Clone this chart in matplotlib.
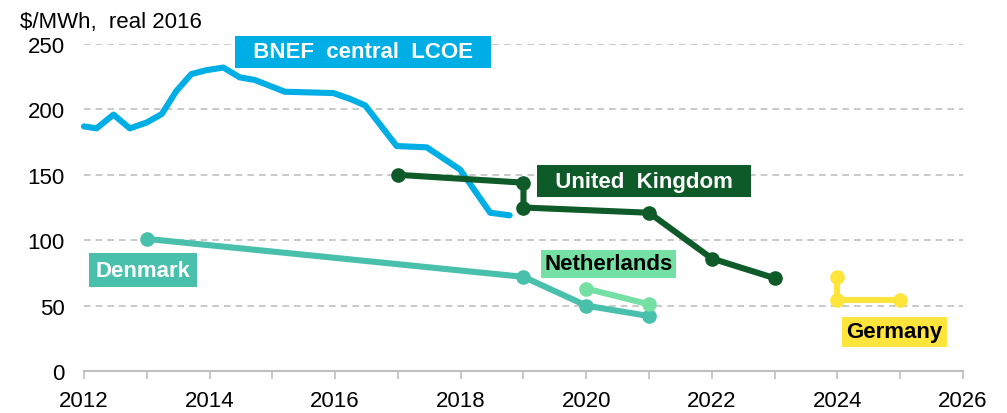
import matplotlib.pyplot as plt
from matplotlib.ticker import MultipleLocator

plt.rcParams['font.family'] = ['Liberation Sans', 'DejaVu Sans']

# =========================
# Data
# =========================
bnef_years = [2012.0, 2012.2, 2012.47, 2012.73, 2013.0, 2013.24, 2013.47, 2013.71,
              2013.95, 2014.22, 2014.48, 2014.72, 2014.96, 2015.2, 2015.97, 2016.24,
              2016.48, 2016.98, 2017.46, 2017.99, 2018.47, 2018.78]
bnef_lcoe = [187, 185.5, 196, 185.5, 190, 196.5, 214, 227, 230, 232, 224.5, 222.5,
             218, 213.5, 212.5, 208, 203, 172, 171, 154, 121, 119]

uk_years = [2017, 2019, 2019, 2021, 2022, 2023]
uk_price = [150, 144, 125, 121, 86, 71]

dk_years = [2013, 2019, 2020, 2021]
dk_price = [101, 72, 50, 42]

nl_years = [2020, 2021]
nl_price = [63, 51]

de_years = [2024, 2024, 2025]
de_price = [72, 54, 54]

c_bnef = '#00AEE6'
c_uk = '#0E5A28'
c_dk = '#48C0AC'
c_nl = '#75E0A3'
c_de = '#FFE43C'

fig = plt.figure(figsize=(10.07, 4.14), dpi=100)
ax = fig.add_axes([0.0834, 0.1014, 0.8729, 0.7899])

lw = 4.4
ms = 9.5
ax.plot(bnef_years, bnef_lcoe, color=c_bnef, lw=lw, solid_capstyle='round',
        solid_joinstyle='round', clip_on=False, zorder=3)
ax.plot(uk_years, uk_price, color=c_uk, lw=lw, marker='o', ms=ms,
        solid_joinstyle='round', clip_on=False, zorder=4)
ax.plot(dk_years, dk_price, color=c_dk, lw=lw, marker='o', ms=ms,
        solid_joinstyle='round', clip_on=False, zorder=3)
ax.plot(nl_years, nl_price, color=c_nl, lw=lw, marker='o', ms=ms,
        solid_joinstyle='round', clip_on=False, zorder=3)
ax.plot(de_years, de_price, color=c_de, lw=lw, marker='o', ms=ms,
        solid_joinstyle='round', clip_on=False, zorder=3)

ax.set_xlim(2012, 2026)
ax.set_ylim(0, 250)
ax.xaxis.set_major_locator(MultipleLocator(2))
ax.xaxis.set_minor_locator(MultipleLocator(1))
ax.yaxis.set_major_locator(MultipleLocator(50))

for v in [50, 100, 150, 200, 250]:
    ax.axhline(v, color='#C0C0C0', lw=1.2, ls=(0, (4, 3)), zorder=1)

for s in ['top', 'right', 'left']:
    ax.spines[s].set_visible(False)
ax.spines['bottom'].set_color('#BFBFBF')
ax.spines['bottom'].set_linewidth(1.5)
ax.tick_params(axis='x', which='both', direction='out', length=6, width=1.2,
               color='#BFBFBF', labelsize=16, pad=8)
ax.tick_params(axis='y', length=0, labelsize=16, pad=14)

fig.text(0.02, 0.945, '$/MWh,  real 2016', fontsize=16, ha='left', va='center')


def tag(x, y, text, bg, fg, pad=0.2):
    ax.text(x, y, text, fontsize=16, fontweight='bold', color=fg, ha='left',
            va='center', zorder=6, clip_on=False,
            bbox=dict(boxstyle='square,pad=%s' % pad, fc=bg, ec='none'))


tag(2014.5, 244, '  BNEF  central  LCOE  ', c_bnef, 'white', 0.25)
tag(2019.31, 145, '  United  Kingdom  ', c_uk, 'white', 0.25)
tag(2019.33, 82, 'Netherlands', c_nl, 'black', 0.15)
tag(2012.18, 77, 'Denmark', c_dk, 'white', 0.3)
tag(2024.14, 30, 'Germany', c_de, 'black', 0.2)

fig.savefig('out.png', dpi=100)
